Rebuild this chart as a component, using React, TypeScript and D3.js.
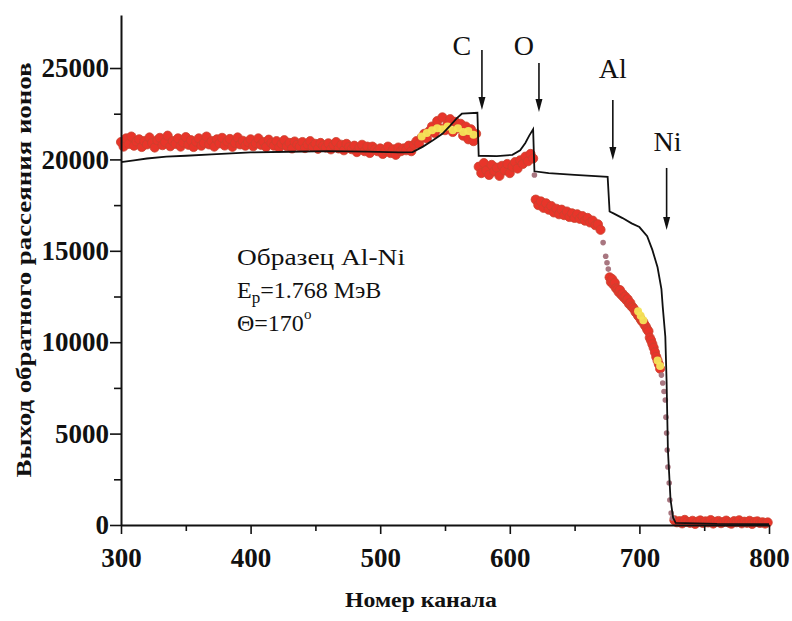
import React, { useRef, useEffect } from 'react';
import * as d3 from 'd3';

const plateauStart = 300; // step 2
const plateauCounts = [
  20950, 20700, 21150, 20850, 21250, 20750, 20980, 21100, 20680, 21000,
  20820, 21200, 20900, 20650, 21050, 21180, 20780, 20950, 21300, 20720,
  21000, 20850, 21150, 20700, 20920, 21220, 20800, 21050, 20680, 20970,
  21150, 20750, 20900, 21250, 20820, 21000, 20700, 21100, 20880, 21180,
  20760, 20980, 21120, 20690, 20900, 21200, 20820, 21020, 20750, 20950,
  21100, 20720, 20880, 21150, 20800, 20950, 20680, 21080, 20900, 20750,
  21000, 20650, 20850, 21050, 20720, 20900, 20600, 20980, 20800, 20700,
  20950, 20620, 20820, 21000, 20680, 20850, 20580, 20900, 20750, 20650,
  20880, 20550, 20780, 20950, 20600, 20800, 20500, 20850, 20680, 20560,
  20750, 20400, 20650, 20800, 20450, 20700, 20350, 20700, 20550, 20450,
  20600, 20300, 20500, 20700, 20350, 20550, 20250, 20650, 20450, 20600,
];
const carbonPeakStart = 520; // step 2
const carbonPeakCounts = [
  20500, 20750, 20450, 20800, 21000, 20850, 21200, 21400, 21150, 21550,
  21800, 21450, 22100, 21700, 22300, 21600, 21950, 22200, 21500, 22050,
  21700, 21950, 21300, 21800, 21100, 21650, 21000, 21400,
];
const carbonStepStart = 576; // step 2
const carbonStepCounts = [
  19600, 19250, 19800, 19400, 19150, 19700, 19350, 19550, 19100, 19650,
  19400, 19750, 19250, 19600, 19850, 19500, 19950, 19750, 20150, 19900,
  20300, 20050,
];
const oxygenStepStart = 620; // step 2
const oxygenStepCounts = [
  17800, 17500, 17700, 17350, 17600, 17250, 17450, 17100, 17300, 17000,
  17250, 16950, 17150, 16850, 17050, 16800, 17000, 16750, 16900, 16650,
  16800, 16550, 16650, 16400, 16450, 16150,
];
const aluminiumFallStart = 677; // step 1
const aluminiumFallCounts = [
  13550, 13300, 13450, 13150, 13250, 12950, 12900, 12750, 12850, 12600,
  12650, 12450, 12500, 12300, 12350, 12100, 12150, 11950, 11900, 11800,
  11650, 11600, 11450, 11400, 11250, 11150, 11100, 10950, 10850, 10700,
  10600, 10250, 10100, 9900, 9700, 9450, 9200, 9000, 8800, 8550,
];
const tailStart = 727; // step 2
const tailCounts = [
  260, 150, 210, 90, 280, 170, 120, 230, 60, 190,
  250, 110, 200, 140, 270, 80, 180, 220, 100, 160,
  240, 130, 70, 210, 150, 260, 90, 180, 120, 230,
  60, 170, 200, 110, 150, 80, 140,
];
// sparse (greyish) points on the edges
const edgePoints: [number, number][] = [
  [619, 19150], [672, 15450], [674, 14700], [675, 14350], [676, 14000],
  [717, 8200], [718, 7770], [719, 7300], [720, 6840], [720.5, 5900],
  [721, 5030], [721.5, 4100], [722, 3170], [723, 2300], [723.5, 1370],
  [724.5, 660], [725.5, 380],
];
// bright overlap points
const yellowPoints: [number, number][] = [
  [532, 21250], [536, 21450], [540, 21600], [544, 21700], [548, 21650],
  [552, 21800], [556, 21600], [560, 21700], [564, 21500], [568, 21550],
  [572, 21350],
  [699, 11700], [701, 11450], [703, 11200], [714, 9000], [716, 8700],
];
// simulated spectrum (black line)
const simulation: [number, number][] = [
  [300, 19850], [310, 19950], [320, 20050], [335, 20150], [350, 20200],
  [370, 20280], [400, 20380], [430, 20420], [460, 20450], [490, 20430],
  [515, 20380], [525, 20400], [533, 20700], [541, 21060], [548, 21400],
  [554, 21850], [559, 22250], [563, 22500], [575, 22550], [576, 20200],
  [590, 20180], [602, 20250], [608, 20500], [612, 20900], [615, 21300],
  [618, 21650], [619, 19350], [630, 19250], [650, 19150], [675.5, 19050],
  [677, 17150], [680, 17050], [687, 16790], [694, 16500], [700, 16300],
  [706, 15800], [710, 15050], [714, 14100], [717, 12900], [718, 11950],
  [720, 10300], [721, 7800], [722, 4100], [724, 1400], [726, 400],
  [728, 120], [760, 60], [800, 50],
];

const markerLabels = ['C', 'O', 'Al', 'Ni'];
const markerChannels = [578.5, 622.5, 679.5, 721];
const markerTips = [22700, 22600, 19970, 16140];

const xMajor = [300, 400, 500, 600, 700, 800];
const xMinor = [350, 450, 550, 650, 750];
const yMajor = [0, 5000, 10000, 15000, 20000, 25000];
const yMinor = [2500, 7500, 12500, 17500, 22500];

const serif = "'Liberation Serif', 'Times New Roman', serif";

const grid = (start: number, step: number, counts: number[]) =>
  counts.map((c, i) => [start + i * step, c] as [number, number]);

const App = () => {
  const svgRef = useRef(null);

  useEffect(() => {
    const svg = d3.select(svgRef.current);
    svg.selectAll('*').remove();

    const x = d3.scaleLinear().domain([300, 800]).range([121, 769]);
    const y = d3.scaleLinear().domain([0, 27900]).range([525, 15]);

    // soft look of the scanned dots
    svg.append('defs').append('filter').attr('id', 'soft')
      .append('feGaussianBlur').attr('stdDeviation', 0.7);

    // measured points
    const redPts = [
      ...grid(plateauStart, 2, plateauCounts),
      ...grid(carbonPeakStart, 2, carbonPeakCounts),
      ...grid(carbonStepStart, 2, carbonStepCounts),
      ...grid(oxygenStepStart, 2, oxygenStepCounts),
      ...grid(aluminiumFallStart, 1, aluminiumFallCounts),
      ...grid(tailStart, 2, tailCounts),
    ];
    const dots = svg.append('g').attr('filter', 'url(#soft)');
    dots.selectAll('circle.red').data(redPts).join('circle')
      .attr('class', 'red')
      .attr('cx', d => x(d[0])).attr('cy', d => y(d[1]))
      .attr('r', 4.6)
      .attr('fill', '#e8342c')
      .attr('stroke', '#c9432f').attr('stroke-width', 0.8);
    dots.selectAll('circle.edge').data(edgePoints).join('circle')
      .attr('class', 'edge')
      .attr('cx', d => x(d[0])).attr('cy', d => y(d[1]))
      .attr('r', 2.8)
      .attr('fill', '#a87680');
    dots.selectAll('circle.yel').data(yellowPoints).join('circle')
      .attr('class', 'yel')
      .attr('cx', d => x(d[0])).attr('cy', d => y(d[1]))
      .attr('r', 4)
      .attr('fill', '#f4e45a').attr('opacity', 0.95);

    // simulation line
    const line = d3.line<[number, number]>().x(d => x(d[0])).y(d => y(d[1]));
    svg.append('path').datum(simulation)
      .attr('d', line)
      .attr('fill', 'none').attr('stroke', '#111').attr('stroke-width', 1.8);

    // axes
    const styleAxis = (g, size) => {
      g.select('.domain').attr('stroke', '#111').attr('stroke-width', 2);
      g.selectAll('.tick line').attr('stroke', '#111').attr('stroke-width', 1.6);
      g.selectAll('.tick text')
        .attr('font-family', serif).attr('font-weight', 'bold')
        .attr('font-size', size).attr('fill', '#111');
    };
    const gy = svg.append('g').attr('transform', `translate(${x(300)},0)`)
      .call(d3.axisLeft(y).tickValues(yMajor).tickSize(11).tickPadding(1)
        .tickSizeOuter(0).tickFormat(d3.format('d')));
    styleAxis(gy, 27);
    const gy2 = svg.append('g').attr('transform', `translate(${x(300)},0)`)
      .call(d3.axisLeft(y).tickValues(yMinor).tickSize(7).tickFormat(() => ''));
    gy2.select('.domain').remove();
    styleAxis(gy2, 27);

    const gx = svg.append('g').attr('transform', `translate(0,${y(0)})`)
      .call(d3.axisBottom(x).tickValues(xMajor).tickSize(9).tickPadding(14)
        .tickSizeOuter(0).tickFormat(d3.format('d')));
    styleAxis(gx, 27);
    const gx2 = svg.append('g').attr('transform', `translate(0,${y(0)})`)
      .call(d3.axisBottom(x).tickValues(xMinor).tickSize(6).tickFormat(() => ''));
    gx2.select('.domain').remove();
    styleAxis(gx2, 27);

    // axis titles
    svg.append('text')
      .attr('transform', 'translate(31,270) rotate(-90)')
      .attr('text-anchor', 'middle')
      .attr('font-family', serif).attr('font-weight', 'bold').attr('font-size', 21)
      .attr('textLength', 415).attr('lengthAdjust', 'spacingAndGlyphs')
      .attr('fill', '#111')
      .text('Выход обратного рассеяния ионов');
    svg.append('text')
      .attr('x', 421).attr('y', 607)
      .attr('text-anchor', 'middle')
      .attr('font-family', serif).attr('font-weight', 'bold').attr('font-size', 22)
      .attr('textLength', 152).attr('lengthAdjust', 'spacingAndGlyphs')
      .attr('fill', '#111')
      .text('Номер канала');

    // element markers
    const labelDx = [-20, -15, 0, 1];
    const labelY = [55, 55, 78, 151];
    const arrowLen = [60, 49, 60, 62];
    markerLabels.forEach((lab, i) => {
      const ax = x(markerChannels[i]);
      const tip = y(markerTips[i]);
      svg.append('line')
        .attr('x1', ax).attr('x2', ax)
        .attr('y1', tip - arrowLen[i]).attr('y2', tip - 8)
        .attr('stroke', '#111').attr('stroke-width', 1.6);
      svg.append('path')
        .attr('d', `M${ax - 3.5},${tip - 13}L${ax + 3.5},${tip - 13}L${ax},${tip}Z`)
        .attr('fill', '#111');
      svg.append('text')
        .attr('x', ax + labelDx[i]).attr('y', labelY[i])
        .attr('text-anchor', 'middle')
        .attr('font-family', serif).attr('font-size', 28).attr('fill', '#111')
        .text(lab);
    });

    // sample info
    const info = svg.append('g')
      .attr('font-family', serif).attr('font-size', 24).attr('fill', '#111');
    info.append('text').attr('x', 237).attr('y', 265)
      .attr('textLength', 168).attr('lengthAdjust', 'spacingAndGlyphs')
      .text('Образец Al-Ni');
    const t2 = info.append('text').attr('x', 237).attr('y', 298);
    t2.append('tspan').text('E');
    t2.append('tspan').attr('font-size', 17).attr('dy', 5).text('p');
    t2.append('tspan').attr('dy', -5).text('=1.768 МэВ');
    const t3 = info.append('text').attr('x', 237).attr('y', 331);
    t3.append('tspan').text('Θ=170');
    t3.append('tspan').attr('font-size', 15).attr('dy', -12).text('o');
  }, []);

  return (
    <svg ref={svgRef} width={792} height={621}
      style={{ position: 'absolute', left: 0, top: 0, background: '#fff' }} />
  );
};

export default App;
